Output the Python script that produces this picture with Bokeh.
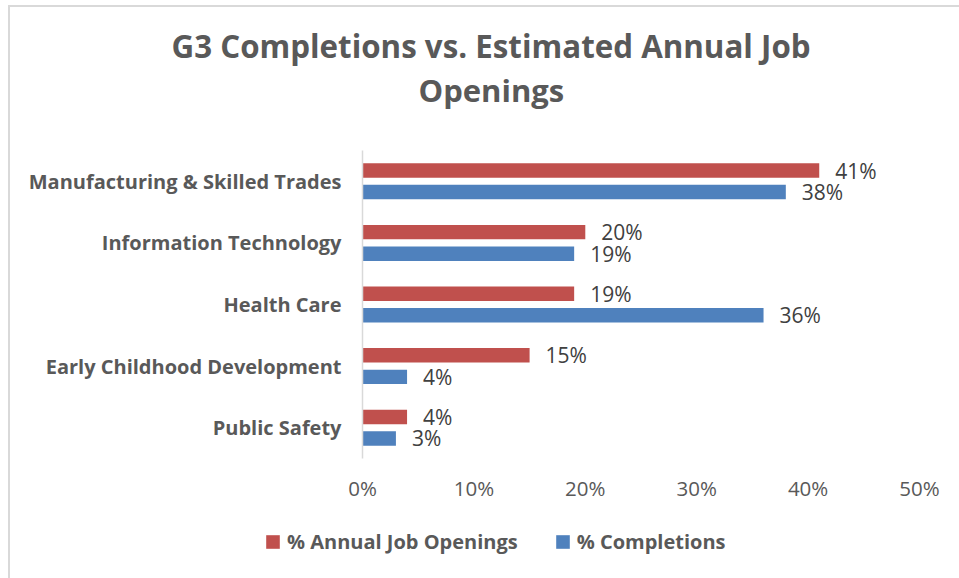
from bokeh.plotting import figure
from bokeh.layouts import column
from bokeh.models import ColumnDataSource, FactorRange, Range1d, Title, Legend, LegendItem, NumeralTickFormatter, FixedTicker
from bokeh.transform import dodge
from bokeh.core.properties import value
from bokeh.embed import file_html
from bokeh.resources import INLINE

# ---- data ----
categories = ["Manufacturing & Skilled Trades", "Information Technology", "Health Care",
              "Early Childhood Development", "Public Safety"]
job_openings = [0.41, 0.20, 0.19, 0.15, 0.04]
completions = [0.38, 0.19, 0.36, 0.04, 0.03]
series_names = ["% Annual Job Openings", "% Completions"]
x_ticks = [0.0, 0.1, 0.2, 0.3, 0.4, 0.5]
title_lines = ["G3 Completions vs. Estimated Annual Job", "Openings"]

RED = "#C0504D"
BLUE = "#4F81BD"
FONT = "Open Sans"

src = ColumnDataSource(dict(
    cat=categories,
    jobs=job_openings,
    comp=completions,
    jobs_lbl=[f"{v*100:.0f}%" for v in job_openings],
    comp_lbl=[f"{v*100:.0f}%" for v in completions],
))

W = 949
HA = 508
HB = 63

# ---------------- main chart ----------------
p = figure(width=W, height=HA, output_backend="svg", toolbar_location=None,
           y_range=FactorRange(factors=list(reversed(categories))),
           x_range=Range1d(0, 0.5),
           min_border_left=352, min_border_right=40, min_border_top=143, min_border_bottom=57)
p.outline_line_color = None
p.xgrid.grid_line_color = None
p.ygrid.grid_line_color = None

OFF = 0.175
BH = 0.235
r_jobs = p.hbar(y=dodge("cat", OFF, range=p.y_range), right="jobs", left=0, height=BH,
                source=src, fill_color=RED, line_color=None)
r_comp = p.hbar(y=dodge("cat", -OFF, range=p.y_range), right="comp", left=0, height=BH,
                source=src, fill_color=BLUE, line_color=None)

p.text(x="jobs", y=dodge("cat", OFF, range=p.y_range), text="jobs_lbl", source=src,
       x_offset=16, text_align="left", text_baseline="middle",
       text_font=value(FONT), text_font_size="21px", text_color="#404040")
p.text(x="comp", y=dodge("cat", -OFF, range=p.y_range), text="comp_lbl", source=src,
       x_offset=16, text_align="left", text_baseline="middle",
       text_font=value(FONT), text_font_size="21px", text_color="#404040")

xa = p.xaxis[0]
xa.ticker = FixedTicker(ticks=x_ticks)
xa.formatter = NumeralTickFormatter(format="0%")
xa.axis_line_color = None
xa.major_tick_line_color = None
xa.minor_tick_line_color = None
xa.major_tick_out = 0
xa.major_label_standoff = 15
xa.major_label_text_font = FONT
xa.major_label_text_font_size = "20.5px"
xa.major_label_text_color = "#595959"

ya = p.yaxis[0]
ya.axis_line_color = "#d9d9d9"
ya.axis_line_width = 1.5
ya.major_tick_line_color = None
ya.minor_tick_line_color = None
ya.major_tick_out = 0
ya.major_label_standoff = 21
ya.major_label_text_font = FONT
ya.major_label_text_font_style = "bold"
ya.major_label_text_font_size = "20px"
ya.major_label_text_color = "#595959"

# title: spacer closest to frame, then line 2, then line 1
p.add_layout(Title(text=" ", text_font_size="10px", standoff=27), "above")
p.add_layout(Title(text=title_lines[1], align="left", offset=56, standoff=0,
                   text_font=FONT, text_font_style="bold", text_font_size="31px",
                   text_color="#595959"), "above")
p.add_layout(Title(text=title_lines[0], align="left", offset=-191, standoff=0,
                   text_font=FONT, text_font_style="bold", text_font_size="31.3px",
                   text_color="#595959"), "above")

# ---------------- legend strip ----------------
q = figure(width=W, height=HB, output_backend="svg", toolbar_location=None,
           x_range=Range1d(0, 0.5), y_range=FactorRange(factors=list(reversed(categories))),
           x_axis_location=None, y_axis_location=None,
           min_border_left=0, min_border_right=0, min_border_top=0, min_border_bottom=0)
q.outline_line_color = None
q.xgrid.grid_line_color = None
q.ygrid.grid_line_color = None
if "frame_align" in q.properties():
    q.frame_align = False
    p.frame_align = False
    leg_x = 254
else:
    leg_x = -98
k_jobs = q.hbar(y="cat", right="jobs", left=0, height=BH, source=src,
                fill_color=RED, line_color=None, visible=False)
k_comp = q.hbar(y="cat", right="comp", left=0, height=BH, source=src,
                fill_color=BLUE, line_color=None, visible=False)
legend = Legend(items=[LegendItem(label=series_names[0], renderers=[k_jobs]),
                       LegendItem(label=series_names[1], renderers=[k_comp])],
                orientation="horizontal", location=(leg_x, 23),
                glyph_width=17, glyph_height=17, label_standoff=6, spacing=36,
                padding=0, margin=0, border_line_color=None, background_fill_alpha=0,
                inactive_fill_alpha=0,
                label_text_font=FONT, label_text_font_style="bold",
                label_text_font_size="20px", label_text_color="#595959")
q.add_layout(legend, "center")

layout = column(p, q, spacing=0)
layout.styles = {"margin-left": "8px", "margin-top": "5px",
                 "border-left": "2px solid #d9d9d9", "border-top": "2px solid #d9d9d9"}

open("out.html", "w").write(file_html(layout, INLINE))
